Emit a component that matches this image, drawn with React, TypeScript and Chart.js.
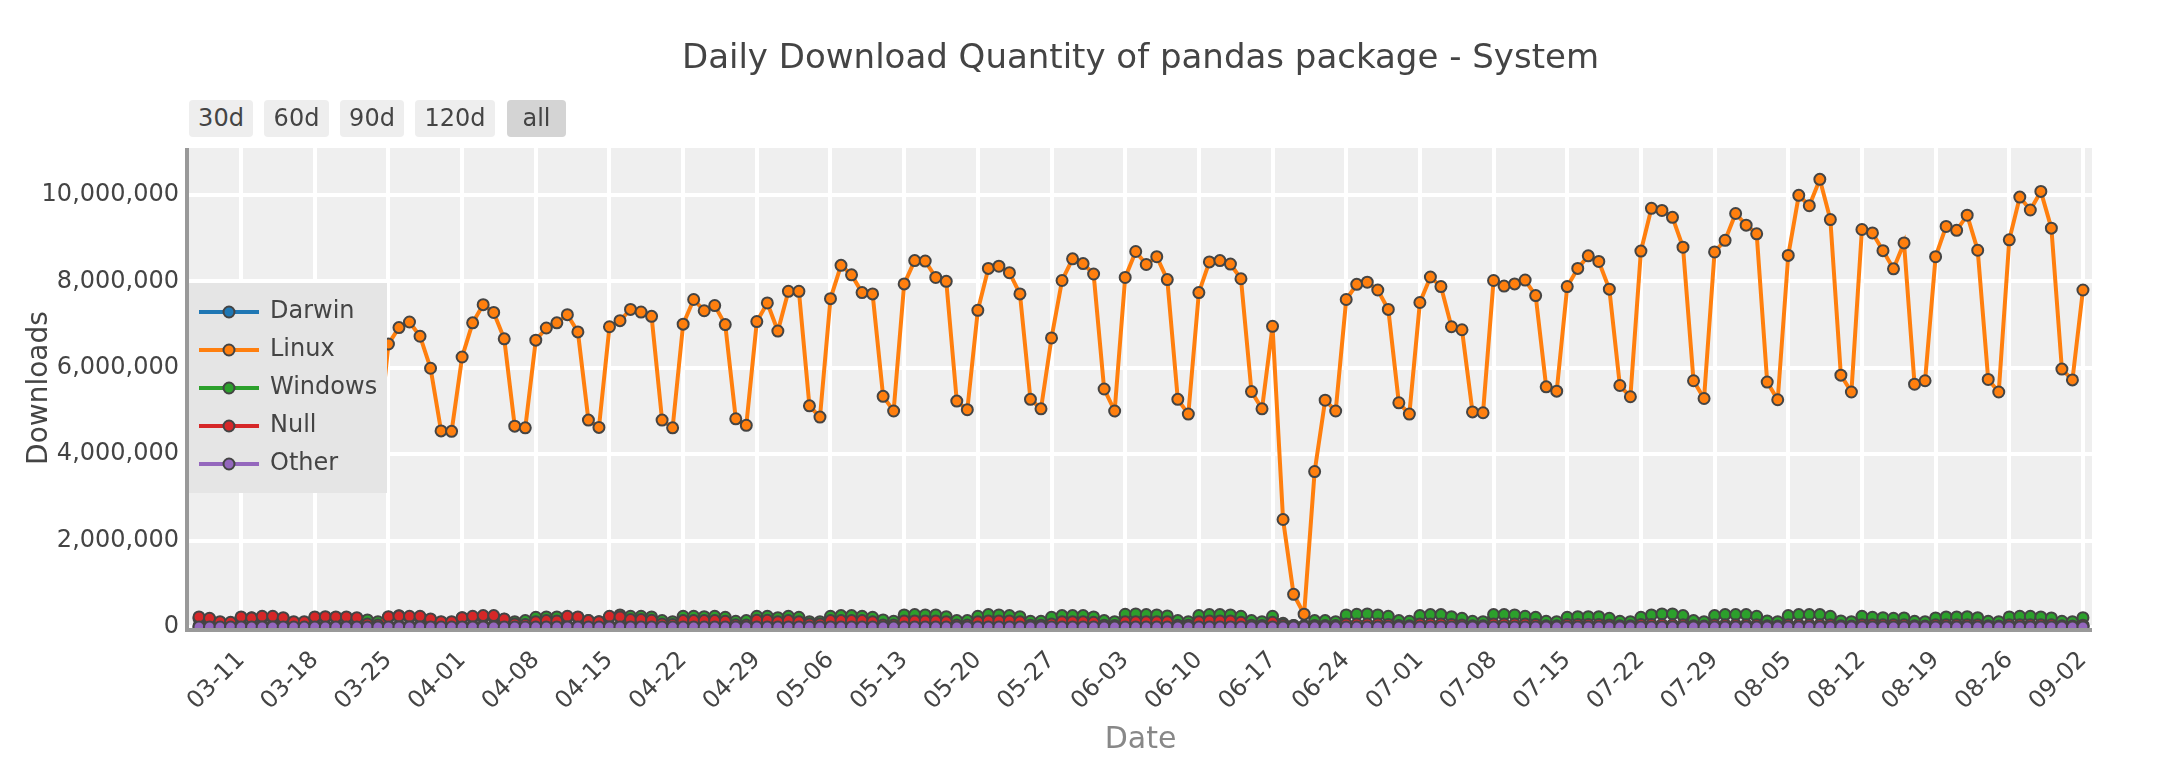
import React, { useEffect, useRef } from "react";
import { Chart, registerables } from "chart.js";

Chart.register(...registerables);

const FONT = '"DejaVu Sans", Verdana, sans-serif';

const DATES = [
  "03-07","03-08","03-09","03-10","03-11","03-12","03-13","03-14","03-15","03-16","03-17","03-18","03-19","03-20","03-21","03-22","03-23","03-24","03-25","03-26","03-27","03-28","03-29","03-30","03-31",
  "04-01","04-02","04-03","04-04","04-05","04-06","04-07","04-08","04-09","04-10","04-11","04-12","04-13","04-14","04-15","04-16","04-17","04-18","04-19","04-20","04-21","04-22","04-23","04-24","04-25","04-26","04-27","04-28","04-29","04-30",
  "05-01","05-02","05-03","05-04","05-05","05-06","05-07","05-08","05-09","05-10","05-11","05-12","05-13","05-14","05-15","05-16","05-17","05-18","05-19","05-20","05-21","05-22","05-23","05-24","05-25","05-26","05-27","05-28","05-29","05-30","05-31",
  "06-01","06-02","06-03","06-04","06-05","06-06","06-07","06-08","06-09","06-10","06-11","06-12","06-13","06-14","06-15","06-16","06-17","06-18","06-19","06-20","06-21","06-22","06-23","06-24","06-25","06-26","06-27","06-28","06-29","06-30",
  "07-01","07-02","07-03","07-04","07-05","07-06","07-07","07-08","07-09","07-10","07-11","07-12","07-13","07-14","07-15","07-16","07-17","07-18","07-19","07-20","07-21","07-22","07-23","07-24","07-25","07-26","07-27","07-28","07-29","07-30","07-31",
  "08-01","08-02","08-03","08-04","08-05","08-06","08-07","08-08","08-09","08-10","08-11","08-12","08-13","08-14","08-15","08-16","08-17","08-18","08-19","08-20","08-21","08-22","08-23","08-24","08-25","08-26","08-27","08-28","08-29","08-30","08-31",
  "09-01","09-02",
];

const X_TICK_LABELS = [
  "03-11","03-18","03-25","04-01","04-08","04-15","04-22","04-29","05-06","05-13","05-20","05-27","06-03",
  "06-10","06-17","06-24","07-01","07-08","07-15","07-22","07-29","08-05","08-12","08-19","08-26","09-02",
];

const Y_TICKS = [0, 2000000, 4000000, 6000000, 8000000, 10000000];

const DARWIN = [
  32000, 30000, 19000, 18000, 33000, 34000, 34000,
  33000, 31000, 19000, 18000, 34000, 35000, 34000,
  34000, 30000, 19000, 18000, 34000, 35000, 35000,
  34000, 31000, 19000, 18000, 35000, 35000, 36000,
  35000, 32000, 20000, 19000, 35000, 36000, 36000,
  35000, 32000, 20000, 19000, 36000, 36000, 36000,
  35000, 32000, 20000, 19000, 36000, 37000, 36000,
  36000, 33000, 20000, 19000, 36000, 37000, 37000,
  36000, 33000, 20000, 19000, 35000, 37000, 37000,
  36000, 33000, 20000, 19000, 36000, 37000, 37000,
  36000, 33000, 20000, 19000, 36000, 37000, 37000,
  36000, 33000, 20000, 19000, 36000, 37000, 37000,
  36000, 33000, 20000, 19000, 35000, 36000, 36000,
  36000, 33000, 20000, 19000, 36000, 37000, 37000,
  36000, 33000, 20000, 19000, 36000, 37000, 37000,
  30000, 12000, 6000, 4000, 20000, 18000, 17000,
  36000, 33000, 20000, 19000, 36000, 37000, 37000,
  36000, 33000, 20000, 19000, 36000, 37000, 37000,
  36000, 33000, 20000, 19000, 36000, 37000, 37000,
  36000, 33000, 20000, 19000, 36000, 37000, 37000,
  36000, 33000, 20000, 19000, 36000, 37000, 37000,
  36000, 33000, 20000, 19000, 36000, 37000, 37000,
  36000, 33000, 20000, 19000, 36000, 37000, 37000,
  36000, 33000, 20000, 19000, 36000, 37000, 37000,
  36000, 33000, 20000, 19000, 36000, 37000, 37000,
  36000, 33000, 20000, 19000, 30000,
];

const LINUX = [
  6700000, 6200000, 4300000, 4200000, 6400000, 6800000, 6900000, 6800000, 6300000, 4300000,
  4200000, 6600000, 7000000, 7100000, 6900000, 6400000, 4300000, 4200000, 6550000, 6930000,
  7060000, 6730000, 5990000, 4540000, 4530000, 6250000, 7040000, 7460000, 7280000, 6670000,
  4650000, 4610000, 6640000, 6920000, 7040000, 7230000, 6830000, 4790000, 4620000, 6950000,
  7090000, 7350000, 7290000, 7190000, 4790000, 4610000, 7010000, 7580000, 7320000, 7440000,
  7000000, 4820000, 4670000, 7070000, 7500000, 6850000, 7770000, 7770000, 5120000, 4860000,
  7600000, 8370000, 8150000, 7740000, 7710000, 5340000, 5000000, 7940000, 8480000, 8470000,
  8090000, 8000000, 5230000, 5030000, 7330000, 8300000, 8350000, 8200000, 7710000, 5270000,
  5050000, 6690000, 8020000, 8520000, 8410000, 8170000, 5510000, 5000000, 8090000, 8690000,
  8390000, 8570000, 8040000, 5270000, 4930000, 7740000, 8450000, 8480000, 8400000, 8060000,
  5450000, 5050000, 6960000, 2490000, 760000, 300000, 3600000, 5250000, 5000000, 7580000,
  7930000, 7980000, 7800000, 7350000, 5190000, 4930000, 7510000, 8100000, 7880000, 6950000,
  6880000, 4980000, 4960000, 8020000, 7890000, 7940000, 8030000, 7670000, 5560000, 5460000,
  7880000, 8300000, 8590000, 8460000, 7820000, 5590000, 5330000, 8700000, 9690000, 9640000,
  9480000, 8790000, 5700000, 5290000, 8680000, 8950000, 9570000, 9300000, 9100000, 5670000,
  5260000, 8600000, 9990000, 9750000, 10360000, 9430000, 5830000, 5440000, 9200000, 9120000,
  8710000, 8290000, 8890000, 5620000, 5700000, 8570000, 9270000, 9180000, 9530000, 8720000,
  5730000, 5440000, 8960000, 9950000, 9650000, 10080000, 9230000, 5970000, 5720000, 7800000,
];

const WINDOWS = [
  200000, 190000, 100000, 95000, 210000, 215000, 215000, 210000, 195000, 105000,
  100000, 215000, 220000, 220000, 215000, 200000, 166000, 127000, 230000, 266000,
  230000, 225000, 170000, 115000, 105000, 215000, 225000, 230000, 230000, 180000,
  127000, 151000, 228000, 236000, 236000, 235000, 225000, 151000, 127000, 240000,
  282000, 251000, 251000, 236000, 151000, 127000, 251000, 251000, 243000, 251000,
  228000, 135000, 151000, 251000, 251000, 220000, 251000, 228000, 127000, 127000,
  251000, 267000, 267000, 251000, 228000, 166000, 135000, 282000, 290000, 282000,
  282000, 243000, 151000, 151000, 251000, 290000, 282000, 267000, 243000, 135000,
  135000, 228000, 267000, 267000, 267000, 236000, 151000, 127000, 298000, 305000,
  290000, 282000, 259000, 151000, 127000, 267000, 290000, 290000, 282000, 251000,
  151000, 127000, 251000, 90000, 40000, 30000, 151000, 151000, 127000, 282000,
  298000, 305000, 282000, 251000, 151000, 135000, 267000, 290000, 290000, 243000,
  205000, 135000, 127000, 290000, 290000, 282000, 251000, 228000, 135000, 127000,
  228000, 243000, 243000, 243000, 205000, 135000, 127000, 228000, 282000, 305000,
  305000, 267000, 151000, 127000, 267000, 290000, 290000, 290000, 251000, 143000,
  127000, 267000, 290000, 290000, 290000, 251000, 143000, 127000, 251000, 228000,
  220000, 205000, 213000, 135000, 127000, 213000, 236000, 236000, 243000, 220000,
  135000, 127000, 236000, 251000, 251000, 236000, 213000, 135000, 127000, 220000,
];

const NULL_OS = [
  236000, 205000, 127000, 112000, 236000, 213000, 251000, 251000, 220000, 127000,
  127000, 236000, 243000, 236000, 236000, 220000, 73000, 50000, 243000, 255000,
  251000, 251000, 189000, 127000, 127000, 220000, 251000, 267000, 267000, 189000,
  73000, 60000, 127000, 151000, 143000, 251000, 236000, 151000, 127000, 251000,
  236000, 174000, 174000, 159000, 73000, 60000, 151000, 151000, 151000, 151000,
  135000, 55000, 50000, 159000, 159000, 127000, 151000, 127000, 73000, 73000,
  151000, 151000, 151000, 151000, 127000, 50000, 50000, 143000, 143000, 143000,
  143000, 127000, 50000, 50000, 127000, 143000, 143000, 143000, 127000, 45000,
  45000, 73000, 127000, 127000, 127000, 112000, 45000, 40000, 127000, 127000,
  127000, 127000, 127000, 45000, 45000, 127000, 143000, 143000, 143000, 112000,
  45000, 40000, 112000, 50000, 20000, 15000, 40000, 35000, 35000, 73000,
  73000, 73000, 73000, 60000, 35000, 30000, 73000, 73000, 73000, 60000,
  50000, 30000, 30000, 73000, 73000, 73000, 73000, 60000, 30000, 30000,
  60000, 60000, 60000, 60000, 50000, 30000, 30000, 60000, 60000, 60000,
  55000, 55000, 30000, 25000, 55000, 55000, 55000, 55000, 55000, 30000,
  25000, 55000, 55000, 55000, 55000, 55000, 30000, 25000, 55000, 55000,
  55000, 55000, 55000, 30000, 25000, 55000, 55000, 55000, 55000, 55000,
  30000, 25000, 55000, 55000, 55000, 55000, 55000, 30000, 25000, 45000,
];

const OTHER = [
  4200, 4000, 2600, 2500, 4300, 4400, 4300,
  4200, 4000, 2600, 2500, 4300, 4400, 4300,
  4200, 4000, 2600, 2500, 4300, 4400, 4400,
  4300, 4000, 2600, 2500, 4300, 4400, 4400,
  4300, 4100, 2600, 2500, 4400, 4500, 4400,
  4300, 4100, 2600, 2500, 4400, 4500, 4400,
  4300, 4100, 2700, 2600, 4400, 4500, 4500,
  4400, 4100, 2700, 2600, 4400, 4500, 4500,
  4400, 4100, 2700, 2600, 4300, 4500, 4500,
  4400, 4100, 2700, 2600, 4400, 4500, 4500,
  4400, 4100, 2700, 2600, 4400, 4500, 4500,
  4400, 4100, 2700, 2600, 4400, 4500, 4500,
  4400, 4100, 2700, 2600, 4300, 4400, 4400,
  4400, 4100, 2700, 2600, 4400, 4500, 4500,
  4400, 4100, 2700, 2600, 4400, 4500, 4500,
  3600, 1500, 800, 600, 2500, 2300, 2200,
  4400, 4100, 2700, 2600, 4400, 4500, 4500,
  4400, 4100, 2700, 2600, 4400, 4500, 4500,
  4400, 4100, 2700, 2600, 4400, 4500, 4500,
  4400, 4100, 2700, 2600, 4400, 4500, 4500,
  4400, 4100, 2700, 2600, 4400, 4500, 4500,
  4400, 4100, 2700, 2600, 4400, 4500, 4500,
  4400, 4100, 2700, 2600, 4400, 4500, 4500,
  4400, 4100, 2700, 2600, 4400, 4500, 4500,
  4400, 4100, 2700, 2600, 4400, 4500, 4500,
  4400, 4100, 2700, 2600, 3800,
];

const SERIES_NAMES = ["Darwin", "Linux", "Windows", "Null", "Other"];
const SERIES_COLORS = ["#1f77b4", "#ff7f0e", "#2ca02c", "#d62728", "#9467bd"];
const SERIES_VALUES = [DARWIN, LINUX, WINDOWS, NULL_OS, OTHER];

const RANGE_BUTTONS = ["30d", "60d", "90d", "120d", "all"];
const ACTIVE_BUTTON = "all";

const TITLE = "Daily Download Quantity of pandas package - System";
const Y_TITLE = "Downloads";
const X_TITLE = "Date";

const decorPlugin = {
  id: "decor",
  beforeDraw(chart: any) {
    const { ctx, chartArea: a } = chart;
    ctx.save();
    ctx.fillStyle = "#efefef";
    ctx.fillRect(a.left, a.top, a.right - a.left, a.bottom - a.top);
    ctx.restore();
  },
  afterDatasetsDraw(chart: any) {
    const { ctx, chartArea: a } = chart;
    ctx.save();
    ctx.fillStyle = "#999999";
    ctx.fillRect(a.left - 4, a.top, 4, a.bottom - a.top + 4);
    ctx.fillRect(a.left - 4, a.bottom, a.right - a.left + 4, 4);

    const lx = a.left;
    const ly = 283;
    ctx.fillStyle = "#e5e5e5";
    ctx.fillRect(lx, ly, 198, 210);
    SERIES_NAMES.forEach((name, i) => {
      const y = 312 + i * 38;
      ctx.strokeStyle = SERIES_COLORS[i];
      ctx.lineWidth = 4;
      ctx.beginPath();
      ctx.moveTo(lx + 10, y);
      ctx.lineTo(lx + 70, y);
      ctx.stroke();
      ctx.beginPath();
      ctx.arc(lx + 40, y, 5.5, 0, Math.PI * 2);
      ctx.fillStyle = SERIES_COLORS[i];
      ctx.fill();
      ctx.lineWidth = 2;
      ctx.strokeStyle = "#444444";
      ctx.stroke();
      ctx.fillStyle = "#444444";
      ctx.font = `24px ${FONT}`;
      ctx.textAlign = "left";
      ctx.textBaseline = "middle";
      ctx.fillText(name, lx + 81, y);
    });
    ctx.restore();
  },
  afterDraw(chart: any) {
    const { ctx, chartArea: a } = chart;
    const cx = (a.left + a.right) / 2;
    ctx.save();
    ctx.fillStyle = "#444444";
    ctx.font = `34px ${FONT}`;
    ctx.textAlign = "center";
    ctx.textBaseline = "alphabetic";
    ctx.fillText(TITLE, cx, 68);

    ctx.font = `28px ${FONT}`;
    ctx.save();
    ctx.translate(47, (a.top + a.bottom) / 2);
    ctx.rotate(-Math.PI / 2);
    ctx.textAlign = "center";
    ctx.fillText(Y_TITLE, 0, 0);
    ctx.restore();

    ctx.fillStyle = "#888888";
    ctx.font = `30px ${FONT}`;
    ctx.textAlign = "center";
    ctx.fillText(X_TITLE, cx, 748);
    ctx.restore();
  },
};

export default function App() {
  const canvasRef = useRef<HTMLCanvasElement | null>(null);

  useEffect(() => {
    const canvas = canvasRef.current;
    if (!canvas) return;
    const chart = new Chart(canvas, {
      type: "line",
      data: {
        datasets: SERIES_NAMES.map((name, i) => ({
          label: name,
          data: SERIES_VALUES[i].map((v, j) => ({ x: j, y: v })),
          borderColor: SERIES_COLORS[i],
          backgroundColor: SERIES_COLORS[i],
          borderWidth: 4,
          pointRadius: 5.5,
          pointBorderWidth: 2,
          pointBorderColor: "#444444",
          pointBackgroundColor: SERIES_COLORS[i],
          tension: 0,
          fill: false,
          clip: 0,
          order: SERIES_NAMES.length - i,
        })),
      },
      options: {
        animation: false,
        responsive: false,
        maintainAspectRatio: false,
        events: [],
        layout: { padding: { left: 0, top: 148, right: 76, bottom: 0 } },
        plugins: {
          legend: { display: false },
          title: { display: false },
          tooltip: { enabled: false },
        },
        scales: {
          x: {
            type: "linear",
            min: -0.95,
            max: 179.86,
            afterBuildTicks: (s: any) => {
              s.ticks = X_TICK_LABELS.map((l) => ({ value: DATES.indexOf(l) }));
            },
            afterFit: (s: any) => {
              s.height = 142;
              s.paddingLeft = 0;
              s.paddingRight = 0;
            },
            ticks: {
              autoSkip: false,
              minRotation: 45,
              maxRotation: 45,
              padding: 18,
              color: "#444444",
              font: { family: FONT, size: 24 },
              callback: (v: any) => DATES[Math.round(Number(v))],
            },
            grid: { color: "#ffffff", lineWidth: 4, drawTicks: false },
            border: { display: false },
          },
          y: {
            type: "linear",
            min: -20000,
            max: 11085000,
            afterBuildTicks: (s: any) => {
              s.ticks = Y_TICKS.map((v) => ({ value: v }));
            },
            afterFit: (s: any) => {
              s.width = 189;
              s.paddingTop = 0;
              s.paddingBottom = 0;
            },
            ticks: {
              padding: 10,
              color: "#444444",
              font: { family: FONT, size: 24 },
              callback: (v: any) => Number(v).toLocaleString("en-US"),
            },
            grid: { color: "#ffffff", lineWidth: 4, drawTicks: false },
            border: { display: false },
          },
        },
      },
      plugins: [decorPlugin],
    } as any);
    return () => chart.destroy();
  }, []);

  const btnLefts = [189, 264, 340, 415, 507];
  const btnWidths = [64, 65, 64, 80, 59];

  return (
    <div style={{ position: "fixed", left: 0, top: 0, width: 2168, height: 770, background: "#ffffff", overflow: "hidden" }}>
      <canvas
        ref={canvasRef}
        width={2168}
        height={770}
        style={{ position: "absolute", left: 0, top: 0, width: 2168, height: 770 }}
      />
      {RANGE_BUTTONS.map((b, i) => (
        <div
          key={b}
          style={{
            position: "absolute",
            left: btnLefts[i],
            top: 100,
            width: btnWidths[i],
            height: 37,
            borderRadius: 4,
            background: b === ACTIVE_BUTTON ? "#d4d4d4" : "#eeeeee",
            color: "#444444",
            fontFamily: FONT,
            fontSize: 24,
            display: "flex",
            alignItems: "center",
            justifyContent: "center",
            lineHeight: "37px",
          }}
        >
          {b}
        </div>
      ))}
    </div>
  );
}
